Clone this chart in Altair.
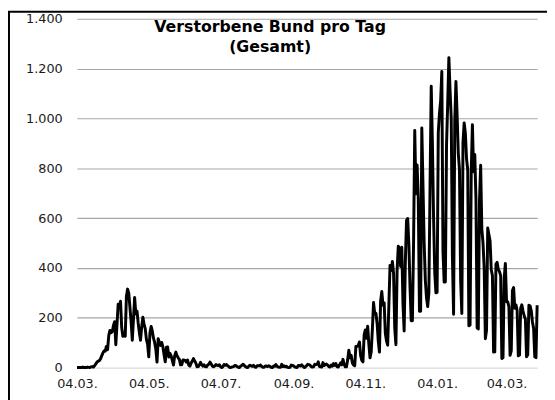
import altair as alt
import pandas as pd

# Daily reported deaths, 04.03.2020 - 30.03.2021
mar20 = [0, 0, 0, 0, 0,
         2, 0, 1, 0, 2, 1, 0,
         3, 4, 2, 8, 15, 22, 25,
         28, 35, 47, 58, 67, 66, 85, 72, 128]
apr20 = [149, 140, 145, 169, 184, 92, 173, 254, 246, 266,
         160, 126, 129, 126, 285, 315, 299, 242, 184, 110,
         194, 281, 215, 227, 179, 140, 110, 163, 202, 173]
may20 = [156, 113, 94, 43, 139, 165, 147, 118, 101, 74,
         22, 116, 101, 89, 101, 83, 51, 23, 82, 83,
         42, 57, 47, 29, 10, 47, 62, 47, 39, 33, 11]
jun20 = [11, 30, 30, 29, 22, 30, 10, 6, 18, 26,
         36, 26, 18, 3, 4, 11, 21, 12, 6, 11,
         4, 3, 10, 13, 22, 15, 6, 3, 6, 12]
jul20 = [9, 8, 11, 3, 0, 4, 12, 9, 12, 7,
         4, 0, 1, 3, 4, 8, 8, 4, 1, 0,
         6, 8, 13, 10, 4, 1, 0, 6, 9, 7, 5]
aug20 = [9, 3, 1, 7, 7, 7, 10, 4, 1, 1,
         6, 6, 4, 7, 5, 1, 0, 6, 5, 12,
         5, 2, 1, 1, 13, 4, 7, 3, 5, 1, 0]
sep20 = [1, 10, 9, 7, 3, 1, 0, 8, 8, 6,
         11, 5, 0, 2, 7, 13, 12, 9, 4, 2,
         3, 13, 12, 13, 23, 5, 3, 2, 20, 8]
oct20 = [11, 14, 10, 4, 2, 10, 6, 16, 9, 16,
         3, 2, 10, 19, 11, 33, 13, 3, 3, 30,
         70, 39, 49, 18, 10, 7, 85, 85, 89, 103, 49]
nov20 = [29, 23, 131, 151, 118, 166, 94, 39, 63, 154,
         261, 215, 218, 178, 107, 62, 267, 305, 251, 260,
         138, 107, 90, 249, 410, 389, 426, 379, 158, 92]
dec20 = [388, 487, 479, 406, 483, 255, 147, 423, 590, 598,
         496, 321, 188, 188, 500, 952, 698, 813, 679, 226,
         226, 962, 731, 500, 350, 280, 245, 300, 730, 1129, 900]
jan21 = [600, 380, 300, 302, 944, 1019, 1070, 1188, 465, 343,
         343, 891, 1060, 1244, 1113, 1000, 445, 214, 989, 1148,
         1013, 859, 795, 349, 217, 903, 982, 941, 839, 794, 168]
feb21 = [171, 786, 975, 786, 855, 679, 159, 155, 666, 812,
         556, 500, 400, 116, 150, 560, 534, 508, 394, 369,
         62, 63, 415, 422, 394, 385, 369, 36]
mar21 = [40, 358, 418, 264, 264, 245, 49, 67, 309, 321,
         238, 252, 229, 47, 50, 238, 252, 227, 207, 195,
         43, 51, 250, 248, 228, 183, 157, 43, 40, 250]

title_lines = ["Verstorbene Bund pro Tag", "(Gesamt)"]
x_tick_dates = [(2020, 3, 4), (2020, 5, 4), (2020, 7, 4), (2020, 9, 4),
                (2020, 11, 4), (2021, 1, 4), (2021, 3, 4)]
y_ticks = [0, 200, 400, 600, 800, 1000, 1200, 1400]

values = (mar20 + apr20 + may20 + jun20 + jul20 + aug20 + sep20 + oct20 +
          nov20 + dec20 + jan21 + feb21 + mar21)
dates = pd.date_range("2020-03-04", periods=len(values), freq="D").strftime("%Y-%m-%d")
df = pd.DataFrame({"date": list(dates), "deaths": values})

W, H = 467, 354
FONT = "DejaVu Sans"


def dt(y, m, d):
    return alt.DateTime(year=y, month=m, date=d, utc=True)


x_enc = alt.X(
    "date:T",
    scale=alt.Scale(type="utc", domain=[dt(2020, 3, 4), dt(2021, 3, 30)], nice=False),
    axis=alt.Axis(
        values=[dt(*t) for t in x_tick_dates], format="%d.%m.", grid=False,
        domain=False, ticks=False, tickSize=0, labelPadding=10, labelFont=FONT,
        labelFontSize=13, labelColor="#1a1a1a", labelAngle=0,
        labelOverlap=False, labelFlush=False, title=None),
)
y_enc = alt.Y(
    "deaths:Q",
    scale=alt.Scale(domain=[0, 1400], nice=False),
    axis=alt.Axis(
        values=y_ticks, labelExpr="replace(format(datum.value, ','), ',', '.')",
        grid=True,
        gridColor={"condition": {"test": "datum.value === 0", "value": "#d9d9d9"}, "value": "#a6a6a6"},
        gridWidth=1.2, domain=False, ticks=False, tickSize=0, labelPadding=15,
        labelFont=FONT, labelFontSize=13, labelColor="#1a1a1a", title=None),
)

line = alt.Chart(df).mark_line(color="black", strokeWidth=3, strokeJoin="round").encode(
    x=x_enc, y=y_enc)

frame = alt.Chart(pd.DataFrame({"k": [0]})).mark_rect(
    fill="transparent", stroke="black", strokeWidth=2).encode(
    x=alt.value(-69), x2=alt.value(700), y=alt.value(-7), y2=alt.value(600))

title = alt.Chart(pd.DataFrame({"t": ["\n".join(title_lines)]})).mark_text(
    font=FONT, fontWeight="bold", fontSize=16, align="center", baseline="alphabetic",
    lineBreak="\n", lineHeight=21, color="black").encode(
    text="t:N", x=alt.value(196), y=alt.value(13))

chart = alt.layer(line, frame, title).properties(
    width=W, height=H,
    autosize=alt.AutoSizeParams(type="none"),
    padding={"left": 70, "top": 8, "right": 10, "bottom": 30},
    background="white",
).configure_view(stroke="transparent")

chart.save("out.html", embed_options={"renderer": "svg", "actions": False})
